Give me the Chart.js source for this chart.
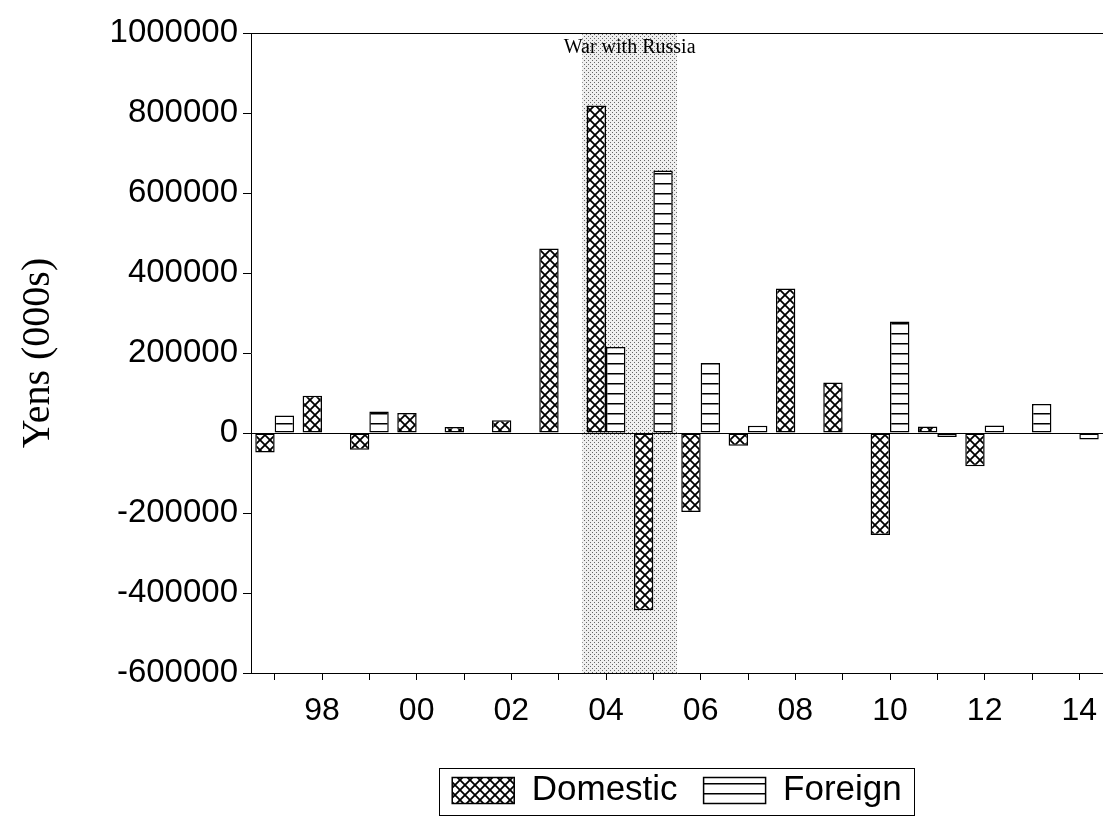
<!DOCTYPE html>
<html>

<head>
    <title>Yens (000s)</title>
    <script src="https://cdn.jsdelivr.net/npm/chart.js"></script>
    <style>
        body { margin: 0; background: #fff; }
        #wrap { width: 1103px; height: 823px; }
    </style>
</head>

<body>
    <div id="wrap"><canvas id="myChart"></canvas></div>

    <script>
        // years 1897 - 1914
        const years = ['97', '98', '99', '00', '01', '02', '03', '04', '05', '06', '07', '08', '09', '10', '11', '12', '13', '14'];
        const domestic = [-48500, 93000, -42000, 50000, 15000, 32000, 461000, 819000, -443000, -197500, -31700, 361000, 126000, -255000, 16500, -83000, 0, 0];
        const foreign = [44000, 0, 54000, 0, 0, 0, 0, 215000, 656000, 175000, 18000, 0, 0, 279000, -10000, 19000, 72500, -16500];
        const yTicks = [1000000, 800000, 600000, 400000, 200000, 0, -200000, -400000, -600000];
        const warYears = ['04', '05'];
        const warLabel = 'War with Russia';

        const sansFamily = 'Arial, "Liberation Sans", sans-serif';
        const legendSize = 35;
        const legendPad = 26;

        // fill patterns
        function makePattern(size, drawFn) {
            const c = document.createElement('canvas');
            c.width = size;
            c.height = size;
            const g = c.getContext('2d');
            drawFn(g, size);
            return g.createPattern(c, 'repeat');
        }
        const crossHatch = makePattern(10, function (g, s) {
            g.fillStyle = '#fff';
            g.fillRect(0, 0, s, s);
            g.strokeStyle = '#000';
            g.lineWidth = 1.8;
            g.beginPath();
            g.moveTo(-1, -1); g.lineTo(s + 1, s + 1);
            g.moveTo(s + 1, -1); g.lineTo(-1, s + 1);
            g.stroke();
        });
        const hLines = makePattern(10, function (g, s) {
            g.fillStyle = '#fff';
            g.fillRect(0, 0, s, s);
            g.fillStyle = '#000';
            g.fillRect(0, 3, s, 1.5);
        });
        const stipple = makePattern(4, function (g, s) {
            g.fillStyle = '#efefef';
            g.fillRect(0, 0, s, s);
            g.fillStyle = '#666';
            g.fillRect(0, 0, 1, 1);
            g.fillRect(2, 2, 1, 1);
        });

        // shaded war period + its label
        const warShade = {
            id: 'warShade',
            beforeDraw(chart) {
                const ctx = chart.ctx, x = chart.scales.x, area = chart.chartArea;
                const half = (x.getPixelForValue(1) - x.getPixelForValue(0)) / 2;
                const a = x.getPixelForValue(years.indexOf(warYears[0])) - half;
                const b = x.getPixelForValue(years.indexOf(warYears[1])) + half;
                ctx.save();
                ctx.fillStyle = stipple;
                ctx.fillRect(a, area.top, b - a, area.bottom - area.top);
                ctx.restore();
            },
            afterDraw(chart) {
                const ctx = chart.ctx, x = chart.scales.x, area = chart.chartArea;
                const mid = (x.getPixelForValue(years.indexOf(warYears[0])) + x.getPixelForValue(years.indexOf(warYears[1]))) / 2;
                ctx.save();
                ctx.font = '20px "Liberation Serif", "Times New Roman", serif';
                ctx.fillStyle = '#000';
                ctx.textAlign = 'center';
                ctx.textBaseline = 'middle';
                ctx.fillText(warLabel, mid, area.top + 15);
                ctx.restore();
            }
        };

        // legend centred under the plot, with a frame round it
        const legendFrame = {
            id: 'legendFrame',
            afterLayout(chart) {
                const lg = chart.legend;
                lg.left = chart.chartArea.left;
                lg.width = lg.right - lg.left;
            },
            afterDraw(chart) {
                const lg = chart.legend;
                if (!lg || !lg.legendItems) return;
                const ctx = chart.ctx;
                const boxW = lg.options.labels.boxWidth;
                ctx.save();
                ctx.font = legendSize + 'px ' + sansFamily;
                const widths = lg.legendItems.map(it => boxW + legendSize / 2 + ctx.measureText(it.text).width);
                const lineW = widths.reduce((s, w) => s + w + legendPad, 0);
                const x0 = (lg.left + legendPad + lg.right - lineW) / 2;
                const x1 = x0 + lineW - legendPad;
                const y = lg.top + legendPad;
                ctx.strokeStyle = '#000';
                ctx.lineWidth = 1;
                ctx.strokeRect(Math.round(x0 - 13) + 0.5, Math.round(y - 5) + 0.5, Math.round(x1 - x0 + 25), 47);
                ctx.restore();
            }
        };

        Chart.defaults.color = '#000';
        Chart.defaults.font.family = sansFamily;

        const config = {
            type: 'bar',
            data: {
                labels: years,
                datasets: [{
                    label: 'Domestic',
                    data: domestic,
                    backgroundColor: crossHatch,
                    borderColor: '#000',
                    borderWidth: 1.5,
                    borderSkipped: false,
                    categoryPercentage: 0.82,
                    barPercentage: 1.0
                }, {
                    label: 'Foreign',
                    data: foreign,
                    backgroundColor: hLines,
                    borderColor: '#000',
                    borderWidth: 1.5,
                    borderSkipped: false,
                    categoryPercentage: 0.82,
                    barPercentage: 1.0
                }]
            },
            options: {
                responsive: true,
                maintainAspectRatio: false,
                animation: false,
                layout: { padding: { left: 0, right: 0, top: 33, bottom: 5 } },
                scales: {
                    x: {
                        offset: true,
                        grid: { display: true, drawOnChartArea: false, offset: false, tickLength: 7, tickColor: '#000' },
                        border: { display: true, color: '#000', width: 1 },
                        ticks: {
                            autoSkip: false,
                            maxRotation: 0,
                            padding: 12,
                            font: { size: 32 },
                            callback: function (val, idx) { return idx % 2 === 1 ? years[idx] : ''; }
                        },
                        afterFit: function (scale) {
                            scale.height = 74;
                            scale.paddingLeft = 0;
                            scale.paddingRight = 0;
                        }
                    },
                    y: {
                        min: -600000,
                        max: 1000000,
                        afterBuildTicks: function (scale) { scale.ticks = yTicks.map(v => ({ value: v })); },
                        grid: {
                            drawOnChartArea: true,
                            color: c => (c.tick && (c.tick.value === 0 || c.tick.value === 1000000)) ? '#000' : 'rgba(0,0,0,0)',
                            tickColor: '#000',
                            tickLength: 8
                        },
                        border: { display: true, color: '#000', width: 1 },
                        ticks: { padding: 5, font: { size: 33 }, callback: v => String(v) },
                        title: {
                            display: true,
                            text: 'Yens (000s)',
                            font: { size: 40, family: '"Liberation Serif", "Times New Roman", serif' },
                            padding: { top: 14, bottom: 0 }
                        },
                        afterFit: function (scale) { scale.width = 251; }
                    }
                },
                plugins: {
                    legend: {
                        position: 'bottom',
                        labels: {
                            boxWidth: 62,
                            boxHeight: 26,
                            padding: legendPad,
                            font: { size: legendSize }
                        }
                    },
                    tooltip: { enabled: false },
                    title: { display: false }
                }
            },
            plugins: [warShade, legendFrame]
        };

        var myChart = new Chart(document.getElementById('myChart'), config);
    </script>
</body>

</html>
